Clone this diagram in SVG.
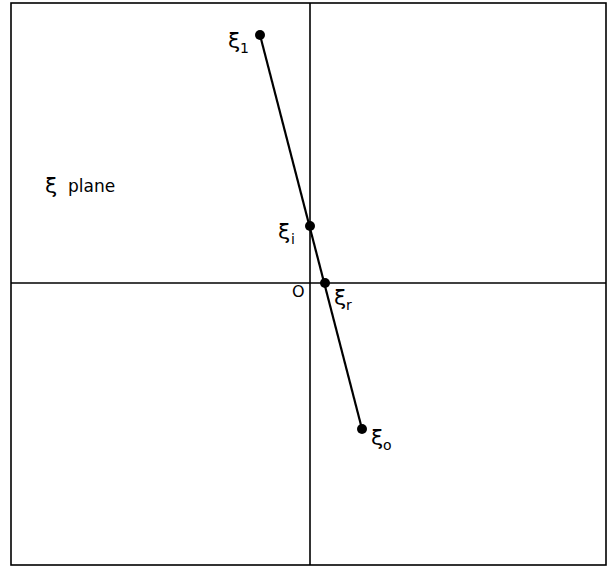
<svg xmlns="http://www.w3.org/2000/svg" width="610" height="569" viewBox="0 0 610 569">
<style>
.ln{stroke:#000;stroke-width:1.6;fill:none}
.seg{stroke:#000;stroke-width:2.2;fill:none}
.pt{fill:#000}
.t{font-family:"DejaVu Sans","Liberation Sans",sans-serif;fill:#000}
.g{font-size:22px}
.s{font-size:14px}
</style>
<rect width="610" height="569" fill="#fff"/>
<g id="frame">
<rect class="ln" x="11" y="3" width="595" height="562"/>
</g>
<g id="axes">
<line class="ln" x1="310" y1="3" x2="310" y2="565"/>
<line class="ln" x1="11" y1="283" x2="606" y2="283"/>
</g>
<g id="connectors">
<line class="seg" x1="260" y1="35" x2="362" y2="429"/>
</g>
<g id="xi1"><circle class="pt" cx="260" cy="35" r="5"/><text class="t g" x="228" y="48">ξ</text><text class="t s" x="240" y="53">1</text></g>
<g id="xii"><circle class="pt" cx="310" cy="226" r="5"/><text class="t g" x="278" y="239">ξ</text><text class="t s" x="291" y="244">i</text></g>
<g id="xir"><circle class="pt" cx="325" cy="283" r="5"/><text class="t g" x="334" y="305">ξ</text><text class="t s" x="346" y="310">r</text></g>
<g id="xio"><circle class="pt" cx="362" cy="429" r="5"/><text class="t g" x="371" y="445">ξ</text><text class="t s" x="383" y="450">o</text></g>
<g id="origin"><text class="t" font-size="16" x="292" y="297">O</text></g>
<g id="label"><text class="t g" x="45" y="193">ξ</text><text class="t" font-size="17" x="68" y="192">plane</text></g>
</svg>
